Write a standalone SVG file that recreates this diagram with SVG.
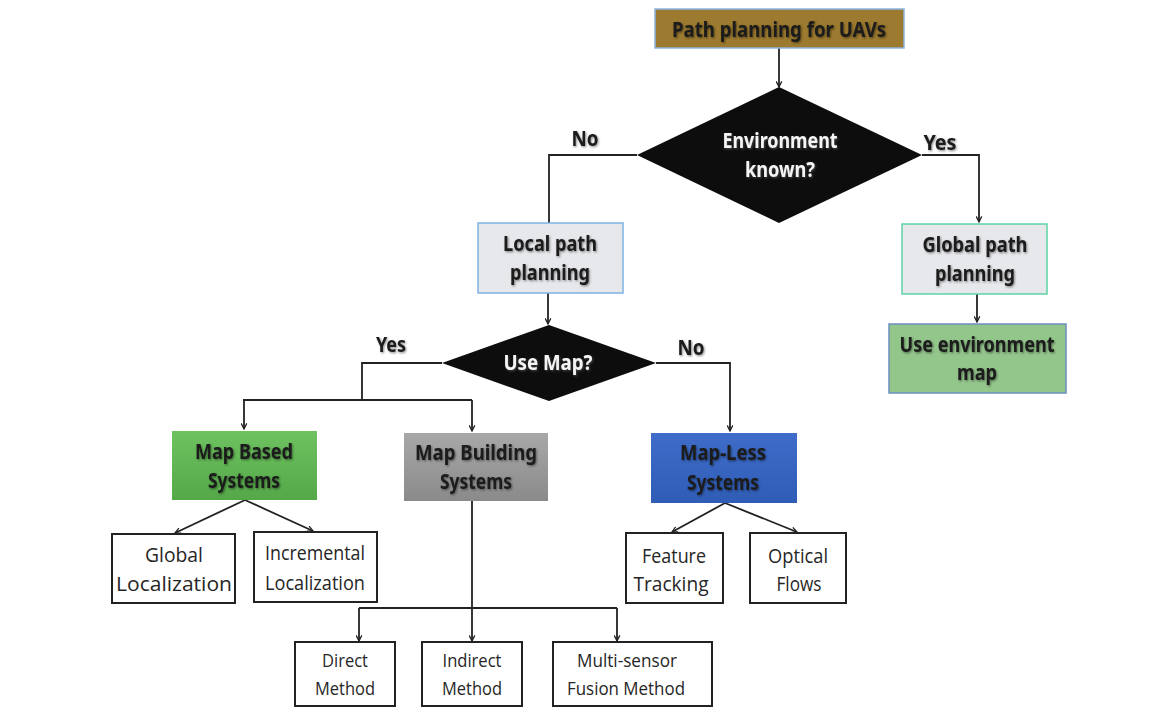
<svg xmlns="http://www.w3.org/2000/svg" width="1164" height="708" viewBox="0 0 1164 708">
<style>
.b{font-family:"Noto Sans","Open Sans",sans-serif;font-weight:bold;font-size:20.5px;fill:#1a1a1a;text-anchor:middle;filter:url(#sh)}
.w{font-family:"Noto Sans","Open Sans",sans-serif;font-weight:bold;font-size:20.5px;fill:#f4f4f4;text-anchor:middle;filter:url(#shw)}
.r{font-family:"Open Sans","Noto Sans",sans-serif;font-size:20.5px;fill:#262626;text-anchor:middle}
.s{font-family:"Open Sans","Noto Sans",sans-serif;font-size:17.5px;fill:#262626;text-anchor:middle}
.wb{fill:#fff;stroke:#222;stroke-width:2}
.c{fill:none;stroke:#222;stroke-width:1.8}
.dm{fill:#0d0d0d}
</style>
<defs>
<marker id="ar" viewBox="0 0 10 10" refX="9" refY="5" markerWidth="7" markerHeight="7" orient="auto" markerUnits="userSpaceOnUse">
<path d="M1,1 L9,5 L1,9" fill="none" stroke="#222" stroke-width="1.8"/>
</marker>
<filter id="sh" x="-10%" y="-20%" width="120%" height="150%">
<feDropShadow dx="1" dy="1.2" stdDeviation="0.8" flood-color="#000" flood-opacity="0.45"/>
</filter>
<filter id="shw" x="-10%" y="-20%" width="120%" height="150%">
<feDropShadow dx="1" dy="1.2" stdDeviation="0.8" flood-color="#666" flood-opacity="0.6"/>
</filter>
<linearGradient id="gG" x1="0" y1="0" x2="0" y2="1">
<stop offset="0" stop-color="#6EC260"/><stop offset="1" stop-color="#54A848"/>
</linearGradient>
<linearGradient id="gY" x1="0" y1="0" x2="0" y2="1">
<stop offset="0" stop-color="#A8A8A8"/><stop offset="1" stop-color="#8A8A8A"/>
</linearGradient>
<linearGradient id="gB" x1="0" y1="0" x2="0" y2="1">
<stop offset="0" stop-color="#3E6CC8"/><stop offset="1" stop-color="#2F5DB6"/>
</linearGradient>
</defs>
<rect width="1164" height="708" fill="#fff"/>

<g id="connectors">
<path class="c" d="M779,48 V87" marker-end="url(#ar)"/>
<path class="c" d="M637,155 H549 V223"/>
<path class="c" d="M922,155 H979 V222" marker-end="url(#ar)"/>
<path class="c" d="M977,294 V322" marker-end="url(#ar)"/>
<path class="c" d="M548,293 V324" marker-end="url(#ar)"/>
<path class="c" d="M442,363 H362 V400"/>
<path class="c" d="M243,400 H472"/>
<path class="c" d="M244,400 V429" marker-end="url(#ar)"/>
<path class="c" d="M472,400 V431" marker-end="url(#ar)"/>
<path class="c" d="M656,363 H730 V431" marker-end="url(#ar)"/>
<path class="c" d="M245,500 L175,533" marker-end="url(#ar)"/>
<path class="c" d="M245,500 L313,531" marker-end="url(#ar)"/>
<path class="c" d="M472,501 V608"/>
<path class="c" d="M359,608 H617"/>
<path class="c" d="M359,608 V641" marker-end="url(#ar)"/>
<path class="c" d="M472,608 V641" marker-end="url(#ar)"/>
<path class="c" d="M617,608 V641" marker-end="url(#ar)"/>
<path class="c" d="M725,503 L672,532" marker-end="url(#ar)"/>
<path class="c" d="M725,503 L797,532" marker-end="url(#ar)"/>
</g>

<g id="labels">
<text class="b" x="585" y="146" textLength="27" lengthAdjust="spacingAndGlyphs">No</text>
<text class="b" x="940" y="150" textLength="33" lengthAdjust="spacingAndGlyphs">Yes</text>
<text class="b" x="391" y="352" textLength="30" lengthAdjust="spacingAndGlyphs">Yes</text>
<text class="b" x="691" y="355" textLength="27" lengthAdjust="spacingAndGlyphs">No</text>
</g>

<g id="n-root">
<rect x="655" y="9" width="249" height="39" fill="#9C7A2F" stroke="#8DB3E2" stroke-width="1.5"/>
<text class="b" x="779" y="37" textLength="214" lengthAdjust="spacingAndGlyphs">Path planning for UAVs</text>
</g>

<g id="n-env">
<polygon class="dm" points="779,87 922,155 779,223 637,155"/>
<text class="w" x="780" y="148" textLength="115" lengthAdjust="spacingAndGlyphs">Environment</text>
<text class="w" x="780" y="177" textLength="70" lengthAdjust="spacingAndGlyphs">known?</text>
</g>

<g id="n-local">
<rect x="478" y="223" width="145" height="70" fill="#E7E8EC" stroke="#7FB2E5" stroke-width="1.5"/>
<text class="b" x="550" y="251" textLength="94" lengthAdjust="spacingAndGlyphs">Local path</text>
<text class="b" x="550" y="280" textLength="80" lengthAdjust="spacingAndGlyphs">planning</text>
</g>

<g id="n-global">
<rect x="902" y="224" width="145" height="70" fill="#E7E8EC" stroke="#5DD3A5" stroke-width="1.5"/>
<text class="b" x="975" y="252" textLength="105" lengthAdjust="spacingAndGlyphs">Global path</text>
<text class="b" x="975" y="281" textLength="80" lengthAdjust="spacingAndGlyphs">planning</text>
</g>

<g id="n-envmap">
<rect x="889" y="324" width="177" height="69" fill="#93C68B" stroke="#6E8FC0" stroke-width="1.5"/>
<text class="b" x="977" y="352" textLength="155" lengthAdjust="spacingAndGlyphs">Use environment</text>
<text class="b" x="977" y="380" textLength="40" lengthAdjust="spacingAndGlyphs">map</text>
</g>

<g id="n-usemap">
<polygon class="dm" points="549,325 656,363 549,401 442,363"/>
<text class="w" x="548" y="370" textLength="89" lengthAdjust="spacingAndGlyphs">Use Map?</text>
</g>

<g id="n-mapbased">
<rect x="172" y="431" width="145" height="69" fill="url(#gG)"/>
<text class="b" x="244" y="459" textLength="98" lengthAdjust="spacingAndGlyphs">Map Based</text>
<text class="b" x="244" y="488" textLength="72" lengthAdjust="spacingAndGlyphs">Systems</text>
</g>

<g id="n-mapbuilding">
<rect x="404" y="433" width="144" height="68" fill="url(#gY)"/>
<text class="b" x="476" y="460" textLength="122" lengthAdjust="spacingAndGlyphs">Map Building</text>
<text class="b" x="476" y="489" textLength="72" lengthAdjust="spacingAndGlyphs">Systems</text>
</g>

<g id="n-mapless">
<rect x="651" y="433" width="146" height="70" fill="url(#gB)"/>
<text class="b" x="723" y="460" textLength="86" lengthAdjust="spacingAndGlyphs">Map-Less</text>
<text class="b" x="723" y="490" textLength="72" lengthAdjust="spacingAndGlyphs">Systems</text>
</g>

<g id="n-globalloc">
<rect class="wb" x="112" y="534" width="123" height="69"/>
<text class="r" x="174" y="562" textLength="58" lengthAdjust="spacingAndGlyphs">Global</text>
<text class="r" x="174" y="591" textLength="116" lengthAdjust="spacingAndGlyphs">Localization</text>
</g>

<g id="n-incloc">
<rect class="wb" x="254" y="532" width="123" height="70"/>
<text class="r" x="315" y="560" textLength="100" lengthAdjust="spacingAndGlyphs">Incremental</text>
<text class="r" x="315" y="590" textLength="100" lengthAdjust="spacingAndGlyphs">Localization</text>
</g>

<g id="n-feature">
<rect class="wb" x="626" y="533" width="97" height="70"/>
<text class="r" x="674" y="563" textLength="64" lengthAdjust="spacingAndGlyphs">Feature</text>
<text class="r" x="671" y="591" textLength="75" lengthAdjust="spacingAndGlyphs">Tracking</text>
</g>

<g id="n-optical">
<rect class="wb" x="750" y="533" width="96" height="70"/>
<text class="r" x="798" y="563" textLength="60" lengthAdjust="spacingAndGlyphs">Optical</text>
<text class="r" x="799" y="591" textLength="45" lengthAdjust="spacingAndGlyphs">Flows</text>
</g>

<g id="n-direct">
<rect class="wb" x="295" y="642" width="100" height="64"/>
<text class="s" x="345" y="667" textLength="46" lengthAdjust="spacingAndGlyphs">Direct</text>
<text class="s" x="345" y="695" textLength="60" lengthAdjust="spacingAndGlyphs">Method</text>
</g>

<g id="n-indirect">
<rect class="wb" x="422" y="642" width="100" height="64"/>
<text class="s" x="472" y="667" textLength="59" lengthAdjust="spacingAndGlyphs">Indirect</text>
<text class="s" x="472" y="695" textLength="60" lengthAdjust="spacingAndGlyphs">Method</text>
</g>

<g id="n-fusion">
<rect class="wb" x="553" y="642" width="159" height="64"/>
<text class="s" x="627" y="667" textLength="100" lengthAdjust="spacingAndGlyphs">Multi-sensor</text>
<text class="s" x="626" y="695" textLength="118" lengthAdjust="spacingAndGlyphs">Fusion Method</text>
</g>
</svg>
